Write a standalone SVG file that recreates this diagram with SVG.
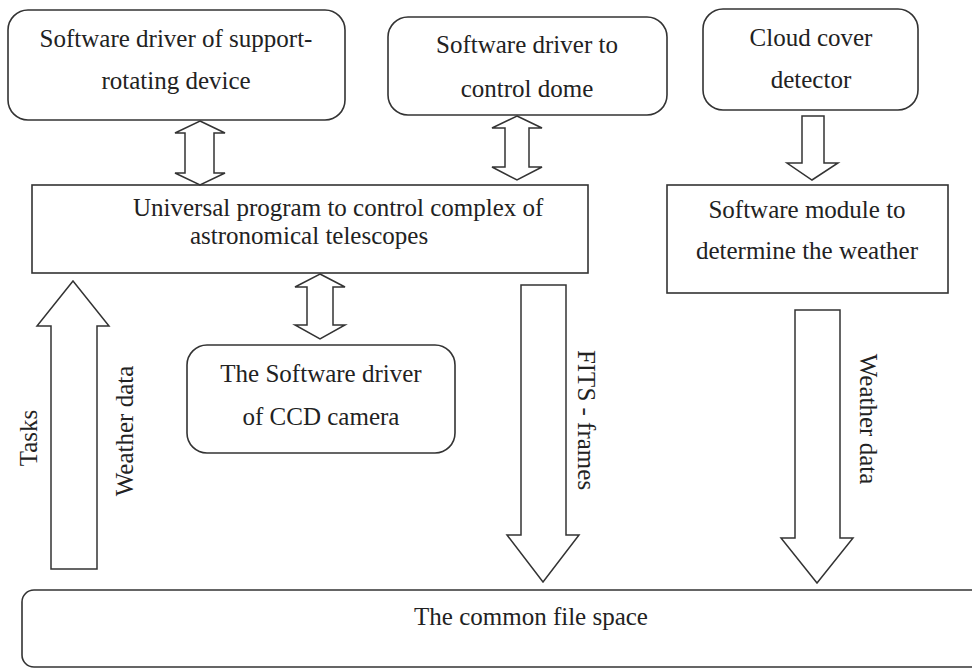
<svg xmlns="http://www.w3.org/2000/svg" width="972" height="668" viewBox="0 0 972 668">
<style>
.box{fill:#fff;stroke:#333;stroke-width:1.6}
.arr{fill:#fff;stroke:#333;stroke-width:1.5;stroke-linejoin:miter}
text{font-family:"Liberation Serif","Times New Roman",serif;font-size:25px;fill:#222}
.c{text-anchor:middle}
</style>
<rect width="972" height="668" fill="#fff"/>
<g id="node-support">
<rect class="box" x="8" y="10" width="337" height="110" rx="20"/>
<text class="c" x="176" y="47">Software driver of support-</text>
<text class="c" x="176" y="89">rotating device</text>
</g>
<g id="node-dome">
<rect class="box" x="388" y="17" width="279" height="98" rx="20"/>
<text class="c" x="527" y="53">Software driver to</text>
<text class="c" x="527" y="97">control dome</text>
</g>
<g id="node-cloud">
<rect class="box" x="703" y="9" width="215" height="101" rx="20"/>
<text class="c" x="811" y="46">Cloud cover</text>
<text class="c" x="811" y="88">detector</text>
</g>
<g id="node-universal">
<rect class="box" x="32" y="185" width="556" height="88"/>
<text x="133" y="216">Universal program to control complex of</text>
<text x="190" y="244">astronomical telescopes</text>
</g>
<g id="node-weather">
<rect class="box" x="667" y="185" width="281" height="108"/>
<text class="c" x="807" y="218">Software module to</text>
<text class="c" x="807" y="259">determine the weather</text>
</g>
<g id="node-ccd">
<rect class="box" x="187" y="345" width="268" height="108" rx="20"/>
<text class="c" x="321" y="382">The Software driver</text>
<text class="c" x="321" y="425">of CCD camera</text>
</g>
<g id="node-filespace">
<rect class="box" x="22" y="590" width="980" height="77" rx="12"/>
<text class="c" x="531" y="625">The common file space</text>
</g>
<g id="connectors">
<polygon class="arr" points="200,121 225,133 214,133 214,173 225,173 200,185 175,173 185,173 185,133 175,133"/>
<polygon class="arr" points="517,116 542,128 529,128 529,167 542,167 517,180 492,167 505,167 505,128 492,128"/>
<polygon class="arr" points="320,274 345,287 333,287 333,325 345,325 320,339 295,325 307,325 307,287 295,287"/>
<polygon class="arr" points="802,116 824,116 824,163 838,163 812,180 787,163 802,163"/>
<polygon class="arr" points="73,281 109,326 97,326 97,569 51,569 51,326 37,326"/>
<polygon class="arr" points="521,285 566,285 566,535 579,535 543,582 507,535 521,535"/>
<polygon class="arr" points="795,310 840,310 840,538 853,538 817,583 781,538 795,538"/>
<text class="c" transform="translate(37,438) rotate(-90)" x="0" y="0">Tasks</text>
<text class="c" transform="translate(133,431) rotate(-90)" x="0" y="0">Weather data</text>
<text class="c" transform="translate(578,420) rotate(90)" x="0" y="0">FITS - frames</text>
<text class="c" transform="translate(860,419) rotate(90)" x="0" y="0">Weather data</text>
</g>
</svg>
